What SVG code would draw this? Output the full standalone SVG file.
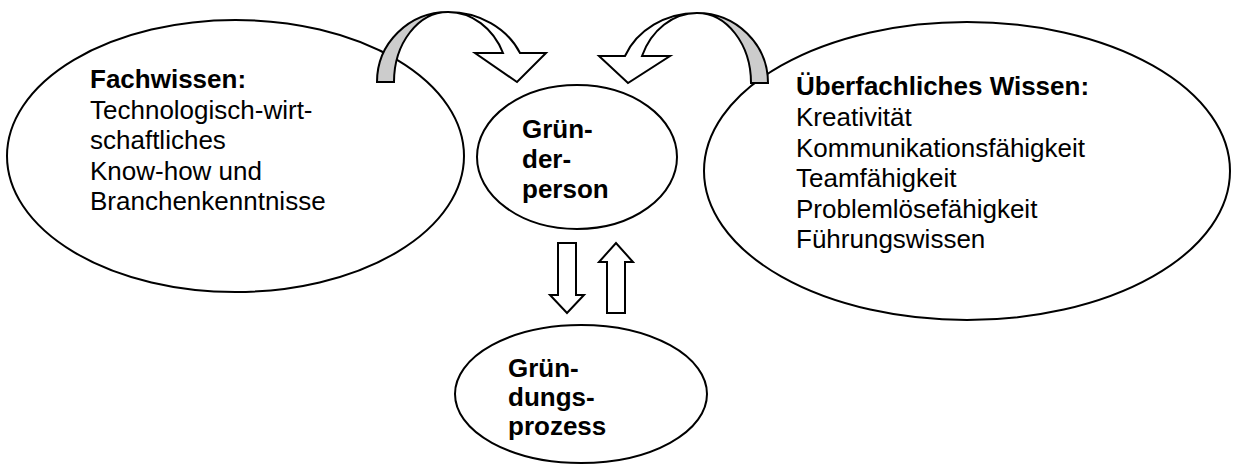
<svg xmlns="http://www.w3.org/2000/svg" width="1234" height="468" viewBox="0 0 1234 468">
<style>
.node{fill:#ffffff;stroke:#000000;stroke-width:2}
.t{font-family:"Liberation Sans",Arial,sans-serif;font-size:26px;fill:#000000}
.b{font-weight:bold}
.arr{fill:#ffffff;stroke:#000000;stroke-width:2;stroke-linejoin:miter}
.back{fill:#cccccc;stroke:#000000;stroke-width:2}
</style>
<rect width="1234" height="468" fill="#ffffff"/>
<g id="fachwissen">
<ellipse class="node" cx="235.5" cy="156" rx="228.5" ry="136"/>
<text class="t" x="90" y="88"><tspan class="b">Fachwissen:</tspan><tspan x="90" y="119">Technologisch-wirt-</tspan><tspan x="90" y="149">schaftliches</tspan><tspan x="90" y="180">Know-how und</tspan><tspan x="90" y="210">Branchenkenntnisse</tspan></text>
</g>
<g id="ueberfachlich">
<ellipse class="node" cx="967" cy="171" rx="263" ry="149"/>
<text class="t" x="796" y="95"><tspan class="b">Überfachliches Wissen:</tspan><tspan x="796" y="126">Kreativität</tspan><tspan x="796" y="157">Kommunikationsfähigkeit</tspan><tspan x="796" y="187">Teamfähigkeit</tspan><tspan x="796" y="218">Problemlösefähigkeit</tspan><tspan x="796" y="248">Führungswissen</tspan></text>
</g>
<g id="gruenderperson">
<ellipse class="node" cx="577" cy="157" rx="100" ry="72"/>
<text class="t b" x="522" y="138">Grün-<tspan x="522" y="168">der-</tspan><tspan x="522" y="198">person</tspan></text>
</g>
<g id="gruendungsprozess">
<ellipse class="node" cx="581" cy="394" rx="126" ry="69"/>
<text class="t b" x="508" y="377">Grün-<tspan x="508" y="406">dungs-</tspan><tspan x="508" y="435">prozess</tspan></text>
</g>
<g id="connectors">
<path class="back" d="M377,82 A71,70 0 0 1 448,12 A54,70 0 0 0 394,82 Z"/>
<path class="arr" d="M448,12 A79,70 0 0 1 520,53 L546,53 L517,82 L475,53 L503,53 A60.4,70 0 0 0 448,12 Z"/>
<path class="back" d="M768,83 A71,70 0 0 0 697,13 A54,70 0 0 1 751,83 Z"/>
<path class="arr" d="M697,13 A78,70 0 0 0 625,56 L599,56 L628,83 L670,56 L642,56 A59.6,70 0 0 1 697,13 Z"/>
<path class="arr" d="M558,243 L576,243 L576,295 L584,295 L567,313 L550,295 L558,295 Z"/>
<path class="arr" d="M607,313 L625,313 L625,262 L633,262 L616,243 L599,262 L607,262 Z"/>
</g>
</svg>
